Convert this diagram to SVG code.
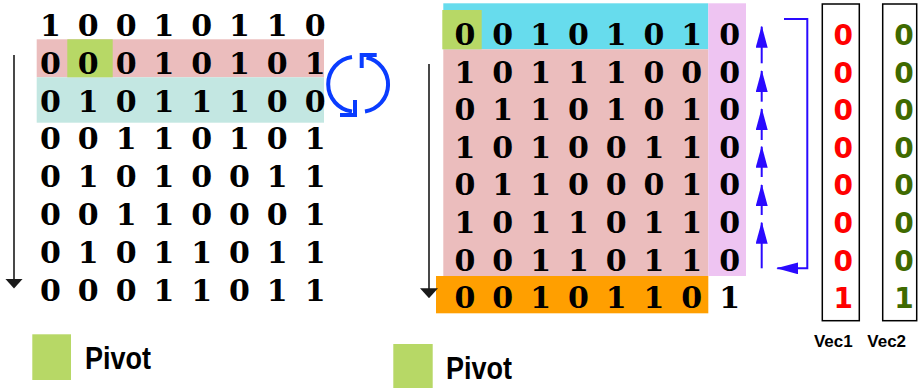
<svg xmlns="http://www.w3.org/2000/svg" width="918" height="388" viewBox="0 0 918 388">
<defs>
<style>
.d{font-family:"DejaVu Serif","Liberation Serif",serif;font-weight:bold;font-size:30px;fill:#000;text-anchor:middle}
.v{font-family:"DejaVu Sans","Liberation Sans",sans-serif;font-weight:bold;font-size:28px;text-anchor:middle}
.r{fill:#ff0000}
.g{fill:#3f6a00}
.lbl{font-family:"Liberation Sans",Arial,sans-serif;font-weight:bold;fill:#000}
.blk{stroke:#1a1a1a;stroke-width:1.6;fill:none}
.swap{stroke:#0a3cff;stroke-width:4;fill:none}
.blu{stroke:#2a0aff;stroke-width:2;fill:none}
.box{stroke:#000;stroke-width:1.5;fill:none}
</style>
<marker id="ah" markerWidth="10" markerHeight="18" refX="8.5" refY="9" orient="auto" markerUnits="userSpaceOnUse" viewBox="0 0 10 18">
<path d="M0,0 L10,9 L0,18 Z" fill="#1a1a1a"/>
</marker>
<marker id="bh" markerWidth="22" markerHeight="12" refX="21" refY="6" orient="auto" markerUnits="userSpaceOnUse" viewBox="0 0 22 12">
<path d="M0,0 L22,6 L0,12 Z" fill="#2a0aff"/>
</marker>
</defs>

<g id="left-matrix">
<rect x="36.7" y="39.3" width="287.3" height="38" fill="#ebbdbd"/>
<rect x="36.7" y="77.3" width="287.3" height="45.4" fill="#c3e7e2"/>
<rect x="67.3" y="39.3" width="45.4" height="38" fill="#b7d866"/>
<text class="d" y="36"><tspan x="50.5">1</tspan><tspan x="88.3">0</tspan><tspan x="126.1">0</tspan><tspan x="163.9">1</tspan><tspan x="201.7">0</tspan><tspan x="239.5">1</tspan><tspan x="277.3">1</tspan><tspan x="315.1">0</tspan></text>
<text class="d" y="73.8"><tspan x="50.5">0</tspan><tspan x="88.3">0</tspan><tspan x="126.1">0</tspan><tspan x="163.9">1</tspan><tspan x="201.7">0</tspan><tspan x="239.5">1</tspan><tspan x="277.3">0</tspan><tspan x="315.1">1</tspan></text>
<text class="d" y="111.6"><tspan x="50.5">0</tspan><tspan x="88.3">1</tspan><tspan x="126.1">0</tspan><tspan x="163.9">1</tspan><tspan x="201.7">1</tspan><tspan x="239.5">1</tspan><tspan x="277.3">0</tspan><tspan x="315.1">0</tspan></text>
<text class="d" y="149.4"><tspan x="50.5">0</tspan><tspan x="88.3">0</tspan><tspan x="126.1">1</tspan><tspan x="163.9">1</tspan><tspan x="201.7">0</tspan><tspan x="239.5">1</tspan><tspan x="277.3">0</tspan><tspan x="315.1">1</tspan></text>
<text class="d" y="187.2"><tspan x="50.5">0</tspan><tspan x="88.3">1</tspan><tspan x="126.1">0</tspan><tspan x="163.9">1</tspan><tspan x="201.7">0</tspan><tspan x="239.5">0</tspan><tspan x="277.3">1</tspan><tspan x="315.1">1</tspan></text>
<text class="d" y="225"><tspan x="50.5">0</tspan><tspan x="88.3">0</tspan><tspan x="126.1">1</tspan><tspan x="163.9">1</tspan><tspan x="201.7">0</tspan><tspan x="239.5">0</tspan><tspan x="277.3">0</tspan><tspan x="315.1">1</tspan></text>
<text class="d" y="262.8"><tspan x="50.5">0</tspan><tspan x="88.3">1</tspan><tspan x="126.1">0</tspan><tspan x="163.9">1</tspan><tspan x="201.7">1</tspan><tspan x="239.5">0</tspan><tspan x="277.3">1</tspan><tspan x="315.1">1</tspan></text>
<text class="d" y="300.6"><tspan x="50.5">0</tspan><tspan x="88.3">0</tspan><tspan x="126.1">0</tspan><tspan x="163.9">1</tspan><tspan x="201.7">1</tspan><tspan x="239.5">0</tspan><tspan x="277.3">1</tspan><tspan x="315.1">1</tspan></text>
</g>

<g id="right-matrix">
<rect x="443.3" y="3.3" width="265" height="46" fill="#67dced"/>
<rect x="443.3" y="49.3" width="265" height="226.7" fill="#ebbdbd"/>
<rect x="436" y="276" width="272.3" height="37.3" fill="#ff9f00"/>
<rect x="708.3" y="3.3" width="37.7" height="272.7" fill="#eec4f2"/>
<rect x="442.3" y="10" width="39.4" height="39.3" fill="#b7d866"/>
<text class="d" y="45"><tspan x="465">0</tspan><tspan x="502.8">0</tspan><tspan x="540.6">1</tspan><tspan x="578.4">0</tspan><tspan x="616.2">1</tspan><tspan x="654">0</tspan><tspan x="691.8">1</tspan><tspan x="729.6">0</tspan></text>
<text class="d" y="82.6"><tspan x="465">1</tspan><tspan x="502.8">0</tspan><tspan x="540.6">1</tspan><tspan x="578.4">1</tspan><tspan x="616.2">1</tspan><tspan x="654">0</tspan><tspan x="691.8">0</tspan><tspan x="729.6">0</tspan></text>
<text class="d" y="120.2"><tspan x="465">0</tspan><tspan x="502.8">1</tspan><tspan x="540.6">1</tspan><tspan x="578.4">0</tspan><tspan x="616.2">1</tspan><tspan x="654">0</tspan><tspan x="691.8">1</tspan><tspan x="729.6">0</tspan></text>
<text class="d" y="157.8"><tspan x="465">1</tspan><tspan x="502.8">0</tspan><tspan x="540.6">1</tspan><tspan x="578.4">0</tspan><tspan x="616.2">0</tspan><tspan x="654">1</tspan><tspan x="691.8">1</tspan><tspan x="729.6">0</tspan></text>
<text class="d" y="195.4"><tspan x="465">0</tspan><tspan x="502.8">1</tspan><tspan x="540.6">1</tspan><tspan x="578.4">0</tspan><tspan x="616.2">0</tspan><tspan x="654">0</tspan><tspan x="691.8">1</tspan><tspan x="729.6">0</tspan></text>
<text class="d" y="233"><tspan x="465">1</tspan><tspan x="502.8">0</tspan><tspan x="540.6">1</tspan><tspan x="578.4">1</tspan><tspan x="616.2">0</tspan><tspan x="654">1</tspan><tspan x="691.8">1</tspan><tspan x="729.6">0</tspan></text>
<text class="d" y="270.6"><tspan x="465">0</tspan><tspan x="502.8">0</tspan><tspan x="540.6">1</tspan><tspan x="578.4">1</tspan><tspan x="616.2">0</tspan><tspan x="654">1</tspan><tspan x="691.8">1</tspan><tspan x="729.6">0</tspan></text>
<text class="d" y="308.2"><tspan x="465">0</tspan><tspan x="502.8">0</tspan><tspan x="540.6">1</tspan><tspan x="578.4">0</tspan><tspan x="616.2">1</tspan><tspan x="654">1</tspan><tspan x="691.8">0</tspan><tspan x="729.6">1</tspan></text>
</g>

<g id="vec1">
<rect x="822.3" y="4" width="37" height="316.7" class="box"/>
<text class="v r" x="843.3"><tspan x="843.3" y="45">0</tspan><tspan x="843.3" y="82.6">0</tspan><tspan x="843.3" y="120.2">0</tspan><tspan x="843.3" y="157.8">0</tspan><tspan x="843.3" y="195.4">0</tspan><tspan x="843.3" y="233">0</tspan><tspan x="843.3" y="270.6">0</tspan><tspan x="843.3" y="308.2">1</tspan></text>
<text class="lbl" x="833.3" y="347.3" font-size="17" text-anchor="middle">Vec1</text>
</g>

<g id="vec2">
<rect x="882.7" y="4" width="34" height="316.7" class="box"/>
<text class="v g" x="904"><tspan x="904" y="45">0</tspan><tspan x="904" y="82.6">0</tspan><tspan x="904" y="120.2">0</tspan><tspan x="904" y="157.8">0</tspan><tspan x="904" y="195.4">0</tspan><tspan x="904" y="233">0</tspan><tspan x="904" y="270.6">0</tspan><tspan x="904" y="308.2">1</tspan></text>
<text class="lbl" x="886.7" y="347.3" font-size="17" text-anchor="middle">Vec2</text>
</g>

<g id="legend-left">
<rect x="32.3" y="334.3" width="38.7" height="45.7" fill="#b7d866"/>
<text class="lbl" x="85" y="369" font-size="32" textLength="66" lengthAdjust="spacingAndGlyphs">Pivot</text>
</g>

<g id="legend-right">
<rect x="393.3" y="344" width="39.4" height="44" fill="#b7d866"/>
<text class="lbl" x="446" y="379" font-size="32" textLength="66" lengthAdjust="spacingAndGlyphs">Pivot</text>
</g>

<g id="connectors">
<line x1="14" y1="55" x2="14" y2="287" class="blk" marker-end="url(#ah)"/>
<line x1="429" y1="64" x2="429" y2="296.7" class="blk" marker-end="url(#ah)"/>
<path d="M352,57 A27.5,27.5 0 0 0 352,111.5" class="swap"/>
<polyline points="355,100 355,115 340,115" class="swap"/>
<path d="M365,111.5 A27.5,27.5 0 0 0 366.5,57.5" class="swap"/>
<polyline points="361.7,68 361.7,55 376.7,55" class="swap"/>
<line x1="761.7" y1="63.3" x2="761.7" y2="26.7" class="blu" marker-end="url(#bh)"/>
<line x1="761.7" y1="101.7" x2="761.7" y2="71" class="blu" marker-end="url(#bh)"/>
<line x1="761.7" y1="140" x2="761.7" y2="109" class="blu" marker-end="url(#bh)"/>
<line x1="761.7" y1="177" x2="761.7" y2="146.7" class="blu" marker-end="url(#bh)"/>
<line x1="761.7" y1="215" x2="761.7" y2="185" class="blu" marker-end="url(#bh)"/>
<line x1="761.7" y1="268.3" x2="761.7" y2="222.7" class="blu" marker-end="url(#bh)"/>
<polyline points="784,19 807.3,19 807.3,268.3 777.3,268.3" class="blu" marker-end="url(#bh)"/>
</g>
</svg>
